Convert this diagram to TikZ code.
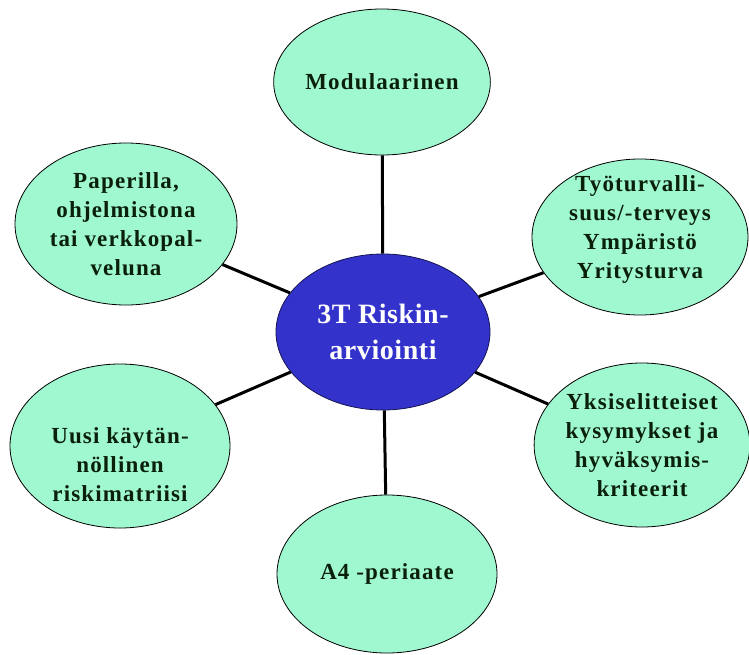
\documentclass[tikz,border=0pt]{standalone}
\usepackage{fontspec}
\setmainfont{Liberation Serif}
\newfontfamily\aihefont[LetterSpace=5]{Liberation Serif}
\newfontfamily\keskusfont[LetterSpace=2]{Liberation Serif}
\usetikzlibrary{shapes.geometric}
\begin{document}
\begin{tikzpicture}[x=1pt, y=-1pt,
  aihe/.style={ellipse, draw=black, line width=0.8pt, fill=aihefill, inner sep=0pt,
    text=aiheteksti, align=center, font=\aihefont\bfseries\fontsize{23}{29}\selectfont},
  teksti/.style={text=aiheteksti, align=center, inner sep=0pt,
    font=\aihefont\bfseries\fontsize{23}{29}\selectfont},
  keskus/.style={ellipse, draw=black!60!keskusfill, line width=0.8pt, fill=keskusfill,
    inner sep=0pt, text=white, align=center, font=\keskusfont\bfseries\fontsize{28}{36}\selectfont},
  yhteys/.style={line width=3pt, black}]
\definecolor{aihefill}{HTML}{A0F8D0}
\definecolor{aiheteksti}{HTML}{0A200A}
\definecolor{keskusfill}{HTML}{3333CC}
\useasboundingbox (0,0) rectangle (749,655);
% keskusellipsi
\node[keskus, minimum width=214pt, minimum height=156pt] (riski) at (383,332) {3T Riskin-\\arviointi};
% aiheet
\node[aihe, minimum width=210pt, minimum height=146pt] (moduli) at (382,82) {Modulaarinen};
\node[aihe, minimum width=222pt, minimum height=162pt] (paperi) at (126,224) {Paperilla,\\ohjelmistona\\tai verkkopal-\\veluna};
\node[aihe, minimum width=216pt, minimum height=156pt] (tyo) at (640,237) {};
\node[teksti] (tyoteksti) at (640,230) {Työturvalli-\\suus/-terveys\\Ympäristö\\Yritysturva};
\node[aihe, minimum width=220pt, minimum height=164pt] (uusi) at (120,446) {};
\node[teksti] (uusiteksti) at (120,465) {Uusi käytän-\\nöllinen\\riskimatriisi};
\node[aihe, minimum width=212pt, minimum height=164pt] (yksi) at (642,445) {Yksiselitteiset\\kysymykset ja\\hyväksymis-\\kriteerit};
\node[aihe, minimum width=220pt, minimum height=158pt] (afour) at (387,574) {A4 -periaate};
% yhteydet
\draw[yhteys] (riski) -- (moduli);
\draw[yhteys] (riski) -- (paperi);
\draw[yhteys] (riski) -- (tyo);
\draw[yhteys] (riski) -- (uusi);
\draw[yhteys] (riski) -- (yksi);
\draw[yhteys] (riski) -- (afour);
\end{tikzpicture}
\end{document}
